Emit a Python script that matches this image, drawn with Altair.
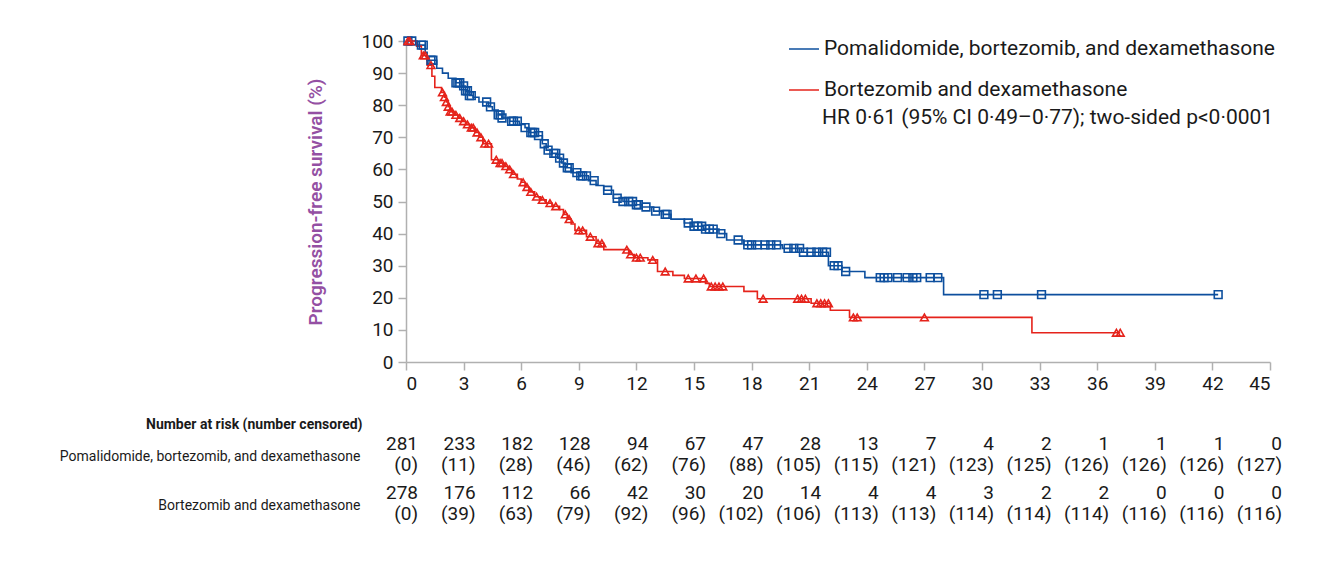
import altair as alt
import pandas as pd

BLUE = "#0d4f9e"
RED = "#e5231b"
PURPLE = "#9450a3"
FONT = "Roboto"

arm_names = ["Pomalidomide, bortezomib, and dexamethasone", "Bortezomib and dexamethasone"]

# Kaplan-Meier steps (time in months, survival %)
blue_t = [0, 0.6, 1.0, 1.1, 1.6, 1.9, 2.2, 2.6, 2.9, 3.1, 3.3, 3.5, 3.8, 4.3, 4.5, 4.8, 5.0, 5.4, 5.9, 6.2,
          6.4, 6.8, 7.1, 7.3, 7.6, 7.9, 8.1, 8.3, 8.6, 9.0, 9.5, 9.9, 10.3, 10.8, 11.3, 11.9, 12.3, 12.9, 13.4, 13.8,
          14.5, 14.9, 15.5, 16.3, 16.7, 17.6, 19.6, 20.6, 22.0, 22.7, 23.9, 28.0]
blue_s = [100, 98.7, 96.5, 94, 91.5, 90, 88.4, 87, 86, 84.5, 83, 82.5, 81, 79.5, 78.5, 77, 76, 75, 74, 73,
          71.5, 70.5, 68, 66, 65, 63.5, 62, 60.5, 59, 58, 56.5, 55, 53.5, 51, 50, 49, 48.3, 47, 46, 44.5,
          43.3, 42.3, 41.4, 40, 38, 36.5, 35.4, 34.2, 30, 28.2, 26.3, 21]
blue_end = 42.3
blue_cens = [0.1, 0.3, 0.8, 0.9, 1.3, 1.4, 2.6, 2.7, 2.8, 3.0, 3.1, 3.2, 3.3, 3.4, 4.2, 4.4, 4.8, 4.9, 5.0,
             5.5, 5.6, 5.8, 6.2, 6.5, 6.6, 6.7, 6.9, 7.2, 7.4, 7.7, 7.8, 8.0, 8.2, 8.4, 8.5, 8.9, 9.1, 9.2, 9.4,
             9.8, 10.5, 11.0, 11.3, 11.6, 11.8, 12.0, 12.1, 12.5, 13.0, 13.5, 13.6, 14.7, 15.0, 15.2, 15.4, 15.6,
             15.8, 16.0, 16.4, 17.3, 17.8, 18.0, 18.3, 18.7, 19.0, 19.3, 19.9, 20.2, 20.5, 20.7, 21.1, 21.4,
             21.7, 21.9, 22.3, 22.5, 22.9, 24.7, 24.9, 25.1, 25.6, 26.1, 26.4, 26.6, 27.3, 27.7, 30.1, 30.8,
             33.1, 42.3]

red_t = [0, 0.55, 0.8, 1.1, 1.35, 1.5, 1.85, 2.0, 2.1, 2.2, 2.3, 2.5, 2.7, 2.9, 3.1, 3.3, 3.6, 3.8, 4.0, 4.45,
         4.8, 5.1, 5.3, 5.5, 5.8, 6.0, 6.2, 6.4, 6.7, 7.0, 7.3, 7.6, 8.0, 8.2, 8.4, 8.6, 8.8, 9.4, 9.9, 10.3,
         11.6, 11.9, 12.6, 13.1, 13.9, 14.5, 15.6, 15.8, 17.6, 18.3, 21.1, 22.1, 23.1, 32.6]
red_s = [100, 98.4, 95.5, 92.5, 89, 85.5, 84, 82.5, 81, 79.5, 78, 77, 76, 75, 74, 73, 71.5, 70, 68, 63,
         62, 61, 60, 58.5, 57, 56, 54.5, 53, 51.5, 50.5, 49.5, 48.5, 47.5, 46, 44.5, 43, 41, 39, 37, 35,
         33.5, 32.5, 31.8, 28.2, 27, 26, 24.5, 23.5, 22, 19.7, 18.3, 16.1, 13.9, 9.1]
red_end = 37.2
red_cens = [0.1, 0.2, 0.9, 1.0, 1.3, 1.9, 2.0, 2.1, 2.2, 2.3, 2.4, 2.6, 2.8, 3.0, 3.2, 3.4, 3.5, 3.7, 3.9,
            4.1, 4.3, 4.7, 4.9, 5.0, 5.2, 5.4, 5.6, 6.1, 6.3, 6.5, 6.8, 7.1, 7.5, 7.8, 8.3, 8.5, 9.0, 9.2,
            9.6, 10.0, 10.2, 11.5, 11.7, 12.0, 12.2, 12.85, 13.5, 14.7, 15.1, 15.5, 15.9, 16.1, 16.3, 16.5,
            18.6, 20.4, 20.6, 20.8, 21.4, 21.6, 21.8, 22.0, 23.3, 23.5, 27.0, 37.0, 37.2]

# Number at risk table
risk_times = [0, 3, 6, 9, 12, 15, 18, 21, 24, 27, 30, 33, 36, 39, 42, 45]
pom_risk = [281, 233, 182, 128, 94, 67, 47, 28, 13, 7, 4, 2, 1, 1, 1, 0]
pom_censored = [0, 11, 28, 46, 62, 76, 88, 105, 115, 121, 123, 125, 126, 126, 126, 127]
bort_risk = [278, 176, 112, 66, 42, 30, 20, 14, 4, 4, 3, 2, 2, 0, 0, 0]
bort_censored = [0, 39, 63, 79, 92, 96, 102, 106, 113, 113, 114, 114, 114, 116, 116, 116]

y_ticks = [0, 10, 20, 30, 40, 50, 60, 70, 80, 90, 100]

hr_text = "HR 0·61 (95% CI 0·49–0·77); two-sided p<0·0001"


def step_frame(ts, ss, end, arm):
    rows = [{"time": t, "surv": s, "arm": arm} for t, s in zip(ts, ss)]
    rows.append({"time": end, "surv": ss[-1], "arm": arm})
    return rows


def cens_frame(cs, ts, ss, arm):
    rows = []
    for c in cs:
        idx = max(i for i, t in enumerate(ts) if t <= c)
        rows.append({"time": c, "surv": ss[idx], "arm": arm})
    return rows


lines_df = pd.DataFrame(step_frame(blue_t, blue_s, blue_end, arm_names[0]) +
                        step_frame(red_t, red_s, red_end, arm_names[1]))
blue_c_df = pd.DataFrame(cens_frame(blue_cens, blue_t, blue_s, arm_names[0]))
red_c_df = pd.DataFrame(cens_frame(red_cens, red_t, red_s, arm_names[1]))

xscale = alt.Scale(domain=[0, 45], nice=False, zero=False)
yscale = alt.Scale(domain=[0, 100], nice=False)

x_enc = alt.X("time:Q", scale=xscale,
              axis=alt.Axis(title=None, values=risk_times, tickSize=8, labelPadding=4,
                            labelFontSize=19, grid=False, labelOverlap=False))
y_enc = alt.Y("surv:Q", scale=yscale,
              axis=alt.Axis(title="Progression-free survival (%)", values=y_ticks,
                            tickSize=8, labelPadding=5, labelFontSize=19, grid=False,
                            labelOverlap=False,
                            titleColor=PURPLE, titleFontSize=19, titleFontWeight=600,
                            titlePadding=35))

lines = alt.Chart(lines_df).mark_line(interpolate="step-after", strokeWidth=1.6).encode(
    x=x_enc, y=y_enc,
    color=alt.Color("arm:N", scale=alt.Scale(domain=arm_names, range=[BLUE, RED]),
                    legend=alt.Legend(title=None, orient="none", legendX=382, legendY=-8,
                                      symbolType="stroke", symbolSize=900, symbolStrokeWidth=1.5,
                                      labelFontSize=21, labelColor="#1a1a1a", labelLimit=0,
                                      labelOffset=4, rowPadding=15, labelFont=FONT)),
    order="time:Q",
)

blue_marks = alt.Chart(blue_c_df).mark_point(shape="square", filled=False, size=60,
                                             strokeWidth=1.6, color=BLUE, opacity=1).encode(
    x=x_enc, y=y_enc)
red_marks = alt.Chart(red_c_df).mark_point(shape="triangle-up", filled=False, size=60,
                                           strokeWidth=1.6, color=RED, opacity=1).encode(
    x=x_enc, y=y_enc)

hr = alt.Chart(pd.DataFrame({"t": [hr_text]})).mark_text(
    align="left", baseline="middle", fontSize=21, color="#1a1a1a", font=FONT).encode(
    x=alt.value(416), y=alt.value(77), text="t:N")

km = alt.layer(lines, blue_marks, red_marks, hr).properties(width=864, height=321)

# table
rows = []
for arm, risk, cens in [(arm_names[0], pom_risk, pom_censored), (arm_names[1], bort_risk, bort_censored)]:
    for t, n, c in zip(risk_times, risk, cens):
        rows.append({"arm": arm, "time": t, "label": f"{n}\n({c})"})
table_df = pd.DataFrame(rows)

table = alt.Chart(table_df).mark_text(
    align="right", baseline="middle", lineBreak="\n", dx=12, dy=-13, fontSize=19, lineHeight=21,
    color="#1a1a1a", font=FONT).encode(
    x=alt.X("time:Q", scale=xscale, axis=None),
    y=alt.Y("arm:N", sort=arm_names, scale=alt.Scale(paddingInner=0, paddingOuter=0),
            axis=alt.Axis(title="Number at risk (number censored)", titleAngle=0, titleAlign="right",
                          titleBaseline="middle", titleX=-44, titleY=-8, titleFontWeight="bold",
                          titleFontSize=14, titleColor="#1a1a1a", labelFontSize=14,
                          labelColor="#1a1a1a", domain=False, ticks=False, labelPadding=46,
                          labelLimit=0)),
    text="label:N",
).properties(width=864, height=98)

chart = alt.vconcat(km, table, spacing=70, bounds="flush").properties(
    padding={"left": 51, "top": 24, "right": 5, "bottom": 5}
).configure(font=FONT).configure_view(stroke=None).configure_axis(
    domainColor="#b0b0b0", tickColor="#b0b0b0", domainWidth=1.5, tickWidth=1.5,
    labelColor="#1a1a1a", labelFont=FONT, titleFont=FONT)

chart.save("out.html", embed_options={"renderer": "svg", "actions": False})
